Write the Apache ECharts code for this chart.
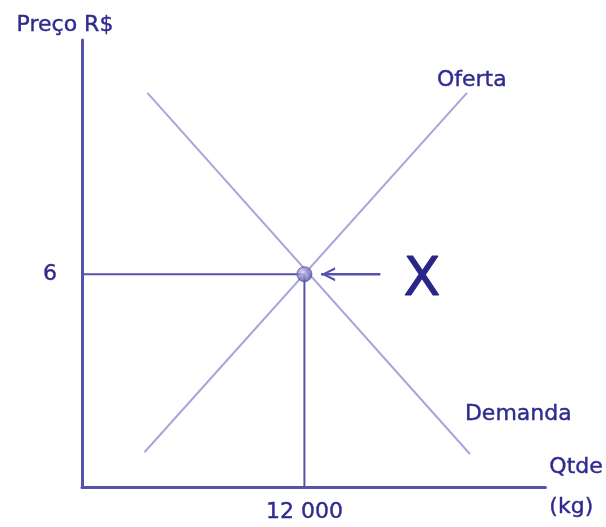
<!DOCTYPE html>
<html>
<head>
<meta charset="utf-8">
<script src="https://cdn.jsdelivr.net/npm/echarts@6/dist/echarts.min.js"></script>
<style>
  html, body { margin: 0; padding: 0; background: #fff; }
  #chart { width: 606px; height: 527px; }
</style>
</head>
<body>
<div id="chart"></div>
<script>
// curves (x in kg, y in R$)
const oferta = [[3370, 0.98], [20770, 11.11]]
const demanda = [[3530, 11.11], [20930, 0.93]]
const equilibrio = [12000, 6]
const precoRef = [[0, 6], [12000, 6]]
const qtdeRef = [[12000, 0], [12000, 6]]
const seta = [[12900, 6], [16100, 6]]
const xTicks = { 12000: '12 000' }
const yTicks = { 6: '6' }

const axisColor = '#5652ab'
const curveColor = '#a9a5db'
const textColor = '#2e2a8e'
const font = 'DejaVu Sans'

// a little heavier than plain text, like the scanned labels
const txt = { color: textColor, fontSize: 22, textBorderColor: textColor, textBorderWidth: 0.4 }

const chart = echarts.init(document.getElementById('chart'))

chart.setOption({
  animation: false,
  backgroundColor: '#fff',
  textStyle: { fontFamily: font },
  grid: { left: 82, right: 57, top: 40, bottom: 39 },
  xAxis: {
    type: 'value',
    min: 0,
    max: 25000,
    interval: 12000,
    name: 'Qtde\n(kg)',
    nameLocation: 'end',
    nameGap: 4,
    nameTextStyle: Object.assign({}, txt, { align: 'left', verticalAlign: 'middle', lineHeight: 40 }),
    axisLine: { lineStyle: { color: axisColor, width: 3 } },
    axisTick: { show: false },
    splitLine: { show: false },
    axisLabel: Object.assign({}, txt, {
      margin: 14,
      formatter: v => xTicks[v] || ''
    })
  },
  yAxis: {
    type: 'value',
    min: 0,
    max: 12.6,
    interval: 6,
    name: 'Preço R$',
    nameLocation: 'end',
    nameGap: 4,
    nameTextStyle: Object.assign({}, txt, { padding: [0, 34, 0, 0] }),
    axisLine: { lineStyle: { color: axisColor, width: 3 } },
    axisTick: { show: false },
    splitLine: { show: false },
    axisLabel: Object.assign({}, txt, {
      margin: 25,
      formatter: v => yTicks[v] || ''
    })
  },
  series: [
    {
      name: 'Oferta',
      type: 'line',
      data: oferta,
      showSymbol: false,
      lineStyle: { color: curveColor, width: 2 },
      endLabel: Object.assign({}, txt, {
        show: true,
        formatter: 'Oferta',
        offset: [-38, -13]
      })
    },
    {
      name: 'Demanda',
      type: 'line',
      data: demanda,
      showSymbol: false,
      lineStyle: { color: curveColor, width: 2 },
      endLabel: Object.assign({}, txt, {
        show: true,
        formatter: 'Demanda',
        offset: [-13, -40]
      })
    },
    {
      type: 'line',
      data: precoRef,
      showSymbol: false,
      lineStyle: { color: axisColor, width: 2 }
    },
    {
      type: 'line',
      data: qtdeRef,
      showSymbol: false,
      lineStyle: { color: axisColor, width: 2 }
    },
    {
      // arrow pointing at the equilibrium, with the big X after it
      type: 'line',
      data: [
        { value: seta[0], symbol: 'path://M14,0 L0,7 L14,14 L14,11.5 L4.5,7 L14,2.5 Z', symbolSize: [14, 14], symbolOffset: [7, 0] },
        { value: seta[1], symbol: 'none' }
      ],
      itemStyle: { color: axisColor },
      lineStyle: { color: axisColor, width: 2.5 },
      label: { show: false },
      endLabel: {
        show: true,
        formatter: 'X',
        color: '#2a2688',
        textBorderColor: '#2a2688',
        textBorderWidth: 1,
        fontSize: 54,
        offset: [15, 7]
      }
    },
    {
      type: 'scatter',
      data: [equilibrio],
      symbolSize: 15,
      z: 5,
      itemStyle: {
        color: new echarts.graphic.RadialGradient(0.4, 0.4, 0.6, [
          { offset: 0, color: '#d6d4f0' },
          { offset: 1, color: '#524ea8' }
        ]),
        borderColor: '#5a56ae',
        borderWidth: 1
      }
    }
  ]
})
</script>
</body>
</html>
